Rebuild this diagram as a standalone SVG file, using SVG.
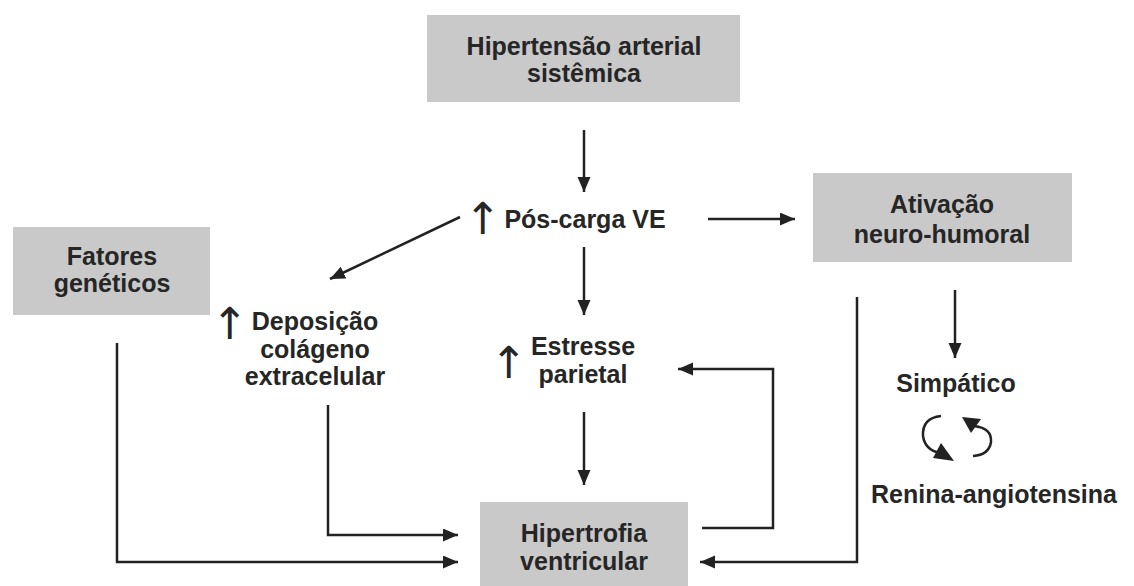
<svg xmlns="http://www.w3.org/2000/svg" width="1134" height="586" viewBox="0 0 1134 586">
<defs>
<style>
.box{fill:#c9c9c9;}
.t{font-family:"Liberation Sans",Arial,sans-serif;font-weight:bold;font-size:25px;fill:#262626;text-anchor:middle;}
.up{font-family:"DejaVu Sans",sans-serif;font-weight:normal;font-size:44px;fill:#262626;text-anchor:middle;}
.c{fill:none;stroke:#222;stroke-width:2.5;}
.h{fill:#222;}
</style>
<marker id="ah" markerUnits="userSpaceOnUse" markerWidth="16" markerHeight="14" refX="15" refY="6.5" orient="auto">
<path d="M0,0 L15,6.5 L0,13 z" fill="#222"/>
</marker>
</defs>
<rect width="1134" height="586" fill="#ffffff"/>

<g id="hipertensao">
<rect class="box" x="427" y="15" width="313" height="87"/>
<text class="t" x="584" y="55">Hipertensão arterial</text>
<text class="t" x="584" y="82">sistêmica</text>
</g>

<g id="poscarga">
<text class="up" x="483" y="234">↑</text>
<text class="t" x="585" y="228">Pós-carga VE</text>
</g>

<g id="ativacao">
<rect class="box" x="813" y="173" width="259" height="89"/>
<text class="t" x="942" y="213">Ativação</text>
<text class="t" x="942" y="243">neuro-humoral</text>
</g>

<g id="fatores">
<rect class="box" x="13" y="227" width="197" height="88"/>
<text class="t" x="112" y="265">Fatores</text>
<text class="t" x="112" y="292">genéticos</text>
</g>

<g id="deposicao">
<text class="up" x="230" y="339">↑</text>
<text class="t" x="315" y="330">Deposição</text>
<text class="t" x="315" y="358">colágeno</text>
<text class="t" x="315" y="385">extracelular</text>
</g>

<g id="estresse">
<text class="up" x="509" y="378">↑</text>
<text class="t" x="583" y="355">Estresse</text>
<text class="t" x="583" y="383">parietal</text>
</g>

<g id="hipertrofia">
<rect class="box" x="480" y="502" width="208" height="90"/>
<text class="t" x="584" y="542">Hipertrofia</text>
<text class="t" x="584" y="570">ventricular</text>
</g>

<g id="simpatico">
<text class="t" x="956" y="392">Simpático</text>
</g>

<g id="renina">
<text class="t" x="994" y="503">Renina-angiotensina</text>
</g>

<g id="ciclo">
<path class="c" d="M941,416 Q922,418 923,436 Q925,450 940,453"/>
<polygon class="h" points="933,458 941,443 954,461"/>
<path class="c" d="M974,426 Q992,428 991,442 Q989,455 973,456"/>
<polygon class="h" points="962,417 981,419 971,433"/>
</g>

<g id="connectors">
<line class="c" x1="584" y1="130" x2="584" y2="192" marker-end="url(#ah)"/>
<line class="c" x1="708" y1="219" x2="795" y2="219" marker-end="url(#ah)"/>
<line class="c" x1="460" y1="217" x2="330" y2="279" marker-end="url(#ah)"/>
<line class="c" x1="584" y1="247" x2="584" y2="315" marker-end="url(#ah)"/>
<line class="c" x1="584" y1="412" x2="584" y2="485" marker-end="url(#ah)"/>
<polyline class="c" points="702,528 773,528 773,369 678,369" marker-end="url(#ah)"/>
<polyline class="c" points="328,405 328,535 458,535" marker-end="url(#ah)"/>
<polyline class="c" points="117,343 117,562 458,562" marker-end="url(#ah)"/>
<polyline class="c" points="857,297 857,562 700,562" marker-end="url(#ah)"/>
<line class="c" x1="955" y1="290" x2="955" y2="358" marker-end="url(#ah)"/>
</g>
</svg>
